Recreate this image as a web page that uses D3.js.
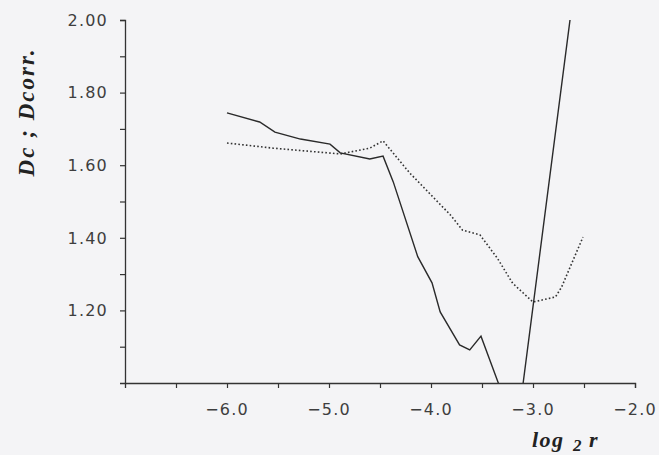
<!DOCTYPE html>
<html>
<head>
<meta charset="utf-8">
<script src="https://cdn.jsdelivr.net/npm/d3@7"></script>
<style>
  body { margin: 0; background: #f4f4f6; }
  .tick_label { font-family: "DejaVu Sans", sans-serif; font-size: 16px; fill: #3e3e3e; letter-spacing: 1.2px; }
  .axis_title { font-family: "Liberation Serif", serif; font-style: italic; font-weight: bold; fill: #222; }
</style>
</head>
<body>
<script>
// log2 r values and dimension estimates
var dc_x = [-6.0, -5.68, -5.53, -5.28, -4.99, -4.89, -4.60, -4.47, -4.37, -4.13, -3.99, -3.91, -3.72, -3.62, -3.51, -3.34, -3.16, -2.55];
var dc_y = [1.744, 1.719, 1.691, 1.672, 1.658, 1.634, 1.617, 1.625, 1.554, 1.348, 1.276, 1.196, 1.105, 1.091, 1.129, 1.0, 0.862, 2.19];

var dcorr_x = [-6.0, -5.55, -4.89, -4.60, -4.47, -4.21, -3.81, -3.69, -3.52, -3.35, -3.20, -3.0, -2.78, -2.72, -2.51];
var dcorr_y = [1.661, 1.647, 1.631, 1.647, 1.667, 1.579, 1.463, 1.421, 1.408, 1.344, 1.275, 1.223, 1.237, 1.264, 1.402];

var x_ticks = [-6.5, -6.0, -5.5, -5.0, -4.5, -4.0, -3.5, -3.0, -2.5, -2.0];
var x_labels = [-6.0, -5.0, -4.0, -3.0, -2.0];
var y_ticks = [1.1, 1.2, 1.3, 1.4, 1.5, 1.6, 1.7, 1.8, 1.9, 2.0];
var y_labels = [1.2, 1.4, 1.6, 1.8, 2.0];

window.onload = function() {
  var w = 659;
  var h = 455;
  var margin = {top: 20, right: 24, bottom: 72, left: 125};

  var svg = d3.select("body")
              .append("svg")
              .attr("width", w)
              .attr("height", h);

  var xScale = d3.scaleLinear()
                 .domain([-7, -2])
                 .range([margin.left, w - margin.right]);

  var yScale = d3.scaleLinear()
                 .domain([1.0, 2.0])
                 .range([h - margin.bottom, margin.top]);

  // clip so the lines stop at the frame
  svg.append("clipPath")
     .attr("id", "plot_clip")
     .append("rect")
     .attr("x", margin.left)
     .attr("y", margin.top)
     .attr("width", w - margin.left - margin.right)
     .attr("height", h - margin.top - margin.bottom);

  // x-axis
  var xAxis = svg.append("g")
     .attr("transform", "translate(0," + (h - margin.bottom) + ")")
     .call(d3.axisBottom(xScale).tickValues(x_ticks).tickSize(5).tickFormat(""));

  // y-axis
  var yAxis = svg.append("g")
     .attr("transform", "translate(" + margin.left + ",0)")
     .call(d3.axisLeft(yScale).tickValues(y_ticks).tickSize(5).tickFormat(""));

  [xAxis, yAxis].forEach(function(a) {
    a.select(".domain").attr("stroke", "#333").attr("stroke-width", 1.3);
    a.selectAll(".tick line").attr("stroke", "#333").attr("stroke-width", 1.2);
  });

  // tick labels
  svg.selectAll("x_lab")
     .data(x_labels)
     .enter().append("text")
     .attr("class", "tick_label")
     .attr("x", function(d) { return xScale(d); })
     .attr("y", 415)
     .style("text-anchor", "middle")
     .text(function(d) { return "\u2212" + Math.abs(d).toFixed(1); });

  svg.selectAll("y_lab")
     .data(y_labels)
     .enter().append("text")
     .attr("class", "tick_label")
     .attr("x", 108)
     .attr("y", function(d) { return yScale(d); })
     .attr("dy", "0.36em")
     .style("text-anchor", "end")
     .text(function(d) { return d.toFixed(2); });

  var line = d3.line()
               .x(function(d) { return xScale(d[0]); })
               .y(function(d) { return yScale(d[1]); });

  var dc = d3.zip(dc_x, dc_y);
  var dcorr = d3.zip(dcorr_x, dcorr_y);

  var plot = svg.append("g").attr("clip-path", "url(#plot_clip)");

  plot.append("path")
      .datum(dcorr)
      .attr("d", line)
      .attr("fill", "none")
      .attr("stroke", "#333")
      .attr("stroke-width", 1.6)
      .attr("stroke-dasharray", "1.6,2.2");

  plot.append("path")
      .datum(dc)
      .attr("d", line)
      .attr("fill", "none")
      .attr("stroke", "#2a2a2a")
      .attr("stroke-width", 1.4);

  // axis titles
  svg.append("text")
     .attr("class", "axis_title")
     .attr("transform", "translate(34, 113) rotate(-90)")
     .style("font-size", "23px")
     .style("text-anchor", "middle")
     .attr("textLength", 127)
     .attr("lengthAdjust", "spacing")
     .text("Dc ; Dcorr.");

  var xt = svg.append("text")
     .attr("class", "axis_title")
     .attr("x", 532)
     .attr("y", 447)
     .style("font-size", "22px")
     .style("letter-spacing", "1.5px");
  xt.append("tspan").text("log");
  xt.append("tspan").attr("x", 573).attr("dy", 4).style("font-size", "17px").text("2");
  xt.append("tspan").attr("x", 589).attr("dy", -4).text("r");
}
</script>
</body>
</html>
